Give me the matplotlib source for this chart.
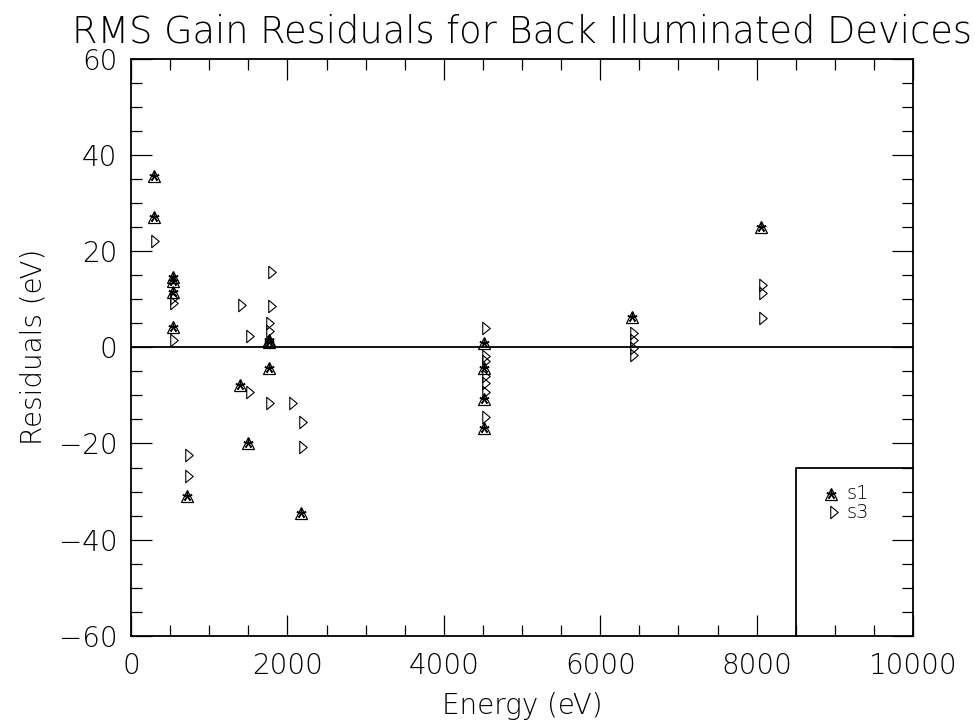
"""RMS gain residuals vs energy for back illuminated devices (s1, s3)."""

import matplotlib
matplotlib.use("Agg")
import matplotlib.pyplot as plt
import numpy as np
from matplotlib.path import Path

# s1 residuals (eV)
S1_ENERGY = [290, 290, 541, 541, 541, 541,
             716,
             1394, 1492,
             1769, 1769, 1769,
             2174,
             4518, 4518, 4518, 4518,
             6403,
             8056]
S1_RESID = [35.7, 27.0, 14.6, 13.8, 11.6, 4.2,
            -31.0,
            -7.9, -19.8,
            1.6, 1.0, -4.3,
            -34.5,
            0.9, -4.3, -10.7, -16.8,
            6.3,
            25.0]

# s3 residuals (eV)
S3_ENERGY = [307, 545, 545, 545,
             746, 746,
             1415, 1526, 1526,
             1803, 1782, 1782, 1803, 1782,
             2067, 2195, 2195,
             4540, 4540, 4540, 4540, 4540, 4540, 4540,
             6436, 6436, 6436, 6436,
             8078, 8078, 8078]
S3_RESID = [22.1, 10.3, 9.2, 1.6,
            -22.4, -26.7,
            8.7, 2.3, -9.4,
            15.6, 5.1, 3.3, 8.5, -11.6,
            -11.6, -15.6, -20.8,
            4.0, -1.9, -2.9, -6.0, -7.4, -9.2, -14.4,
            3.0, 1.6, -0.1, -1.7,
            12.9, 11.3, 6.1]

SERIES = ["s1", "s3"]

FONT = {"family": ["DejaVu Sans"], "weight": 200}
plt.rcParams["font.family"] = ["DejaVu Sans"]
plt.rcParams["font.weight"] = 200

# open right-pointing narrow triangle used for s3
TRI_RIGHT = Path([(-0.3, 0.5), (0.3, 0.0), (-0.3, -0.5), (-0.3, 0.5)],
                 [Path.MOVETO, Path.LINETO, Path.LINETO, Path.CLOSEPOLY])


def draw_s1(ax, x, y, **kw):
    ax.plot(x, y, ls="none", marker="^", ms=8.5, mfc="none", mec="black", mew=0.9, **kw)
    ax.plot(x, y, ls="none", marker=(5, 2, 0), ms=7, mec="black", mew=1.1)


def draw_s3(ax, x, y, **kw):
    ax.plot(x, y, ls="none", marker=TRI_RIGHT, ms=9, mfc="none", mec="black", mew=0.8, **kw)


fig = plt.figure(figsize=(9.75, 7.23), dpi=100)
ax = fig.add_axes([0.1344, 0.1206, 0.8021, 0.7981])

ax.axhline(0, color="black", lw=1.3, zorder=1)
draw_s1(ax, S1_ENERGY, S1_RESID)
draw_s3(ax, S3_ENERGY, S3_RESID)

ax.set_xlim(0, 10000)
ax.set_ylim(-60, 60)
ax.set_xticks(np.arange(0, 10001, 2000))
ax.set_xticks(np.arange(0, 10001, 500), minor=True)
ax.set_yticks(np.arange(-60, 61, 20))
ax.set_yticks(np.arange(-60, 61, 5), minor=True)
ax.set_yticklabels([str(v).replace("-", "\u2212") for v in range(-60, 61, 20)])
ax.tick_params(which="both", direction="in", top=True, right=True, width=0.9,
               labelsize=20, colors="black")
ax.tick_params(which="major", length=15, pad=12)
ax.tick_params(axis="y", which="major", pad=10)
ax.tick_params(which="minor", length=8)
for sp in ax.spines.values():
    sp.set_linewidth(1.3)

ax.set_title("RMS Gain Residuals for Back Illuminated Devices", fontsize=26.5,
             pad=12, fontdict=FONT)
ax.set_xlabel("Energy (eV)", fontsize=20, labelpad=8, fontdict=FONT)
ax.set_ylabel("Residuals (eV)", fontsize=20, labelpad=8, fontdict=FONT)

# legend box in the lower right corner, drawn in data coordinates
ax.plot([8500, 8500, 10000], [-60, -25, -25], color="black", lw=1.3, clip_on=False)
draw_s1(ax, [8950], [-30.5])
draw_s3(ax, [8990], [-34.3])
ax.text(9150, -30.5, SERIES[0], fontsize=14, va="center", ha="left")
ax.text(9150, -34.3, SERIES[1], fontsize=14, va="center", ha="left")

fig.savefig("out.png", dpi=100)
